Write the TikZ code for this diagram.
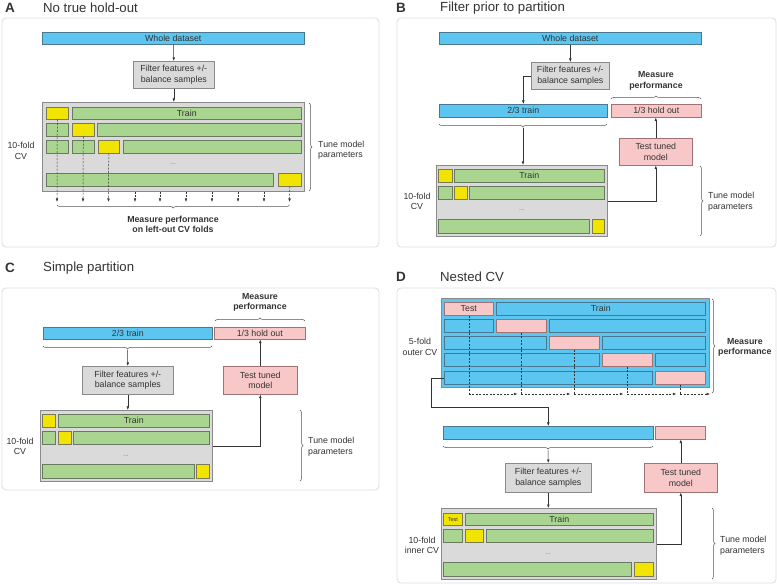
\documentclass[tikz,border=0pt]{standalone}
\usepackage{fontspec}
\setmainfont{Liberation Sans}
\usetikzlibrary{arrows.meta,decorations.pathreplacing,calc}
\definecolor{cblue}{HTML}{5CC6F0}
\definecolor{cblueb}{HTML}{4A7890}
\definecolor{cpink}{HTML}{F8C8C8}
\definecolor{cpinkb}{HTML}{A07272}
\definecolor{cgreen}{HTML}{A9D591}
\definecolor{cgreenb}{HTML}{6A7A62}
\definecolor{cyellow}{HTML}{F1E400}
\definecolor{cyellowb}{HTML}{7C7A50}
\definecolor{cgray}{HTML}{DADADA}
\definecolor{cgrayb}{HTML}{8A8A8A}
\definecolor{cpanel}{HTML}{DDDDDD}
\definecolor{carrow}{HTML}{333333}
\definecolor{cbrace}{HTML}{555555}
\definecolor{ctext}{HTML}{333333}
\newcommand\fs{\fontsize{8.8}{10.5}\selectfont}
\newcommand\mybox[7]{%
  \pgfmathsetmacro\bw{#5-#3}\pgfmathsetmacro\bh{#6-#4}%
  \node[#2, minimum width=\bw pt, minimum height=\bh pt, anchor=north west] (#1) at (#3,#4) {#7};}
\tikzset{
  base/.style={draw, line width=0.6pt, inner sep=0pt, font=\fs, text=ctext},
  bluebar/.style={base, fill=cblue, draw=cblueb},
  pinkbar/.style={base, fill=cpink, draw=cpinkb},
  greenbar/.style={base, fill=cgreen, draw=cgreenb},
  yellowbar/.style={base, fill=cyellow, draw=cyellowb},
  graybox/.style={base, fill=cgray, draw=cgrayb, align=center},
  pinkbox/.style={base, fill=cpink, draw=cpinkb, align=center},
  cvbox/.style={base, fill=cgray, draw=cgrayb, line width=0.8pt},
  outerbox/.style={base, fill=cblue, draw=cgrayb, line width=0.8pt},
  panel/.style={draw=cpanel, line width=0.8pt, rounded corners=4pt, fill=white},
  arr/.style={-{Latex[length=3.5pt,width=2.6pt]}, line width=0.5pt, draw=carrow},
  dasharr/.style={arr, dash pattern=on 2pt off 1.5pt},
  dsh/.style={line width=0.5pt, draw=carrow, dash pattern=on 2pt off 1.5pt},
  brc/.style={decorate, decoration={brace, amplitude=3pt}, draw=cbrace, line width=0.5pt},
  brcm/.style={decorate, decoration={brace, mirror, amplitude=3pt}, draw=cbrace, line width=0.5pt},
  lbl/.style={font=\fs, align=center, inner sep=0pt, text=ctext},
  lbll/.style={font=\fs, align=left, inner sep=0pt, text=ctext, anchor=west},
  blbl/.style={font=\fs\bfseries, align=center, inner sep=0pt, text=ctext},
  dotsl/.style={font=\fontsize{7}{8}\selectfont, inner sep=0pt, text=gray},
  ttl/.style={font=\fontsize{13.2}{15}\selectfont, anchor=west, inner sep=0pt, text=ctext},
  tag/.style={font=\fontsize{13.5}{15}\selectfont\bfseries, anchor=west, inner sep=0pt, text=ctext},
}
\begin{document}
\begin{tikzpicture}[x=1pt,y=-1pt]
\useasboundingbox (0,0) rectangle (777,585);
\fill[white] (0,0) rectangle (777,585);

% ================= Panel A =================
\node[tag] (Atag) at (5,8) {A};
\node[ttl] (Attl) at (43,8) {No true hold-out};
\draw[panel] (2,18) rectangle (379,247);
\mybox{Awhole}{bluebar}{42}{32}{304}{44}{Whole dataset}
\mybox{Afilt}{graybox}{133}{61}{214}{88}{Filter features +/-\\balance samples}
\draw[arr] (Awhole.south) -- (Afilt.north);
\mybox{Acv}{cvbox}{42}{102}{304}{191}{}
\draw[arr] (Afilt.south) -- (Afilt.south |- Acv.north);
\mybox{A11}{yellowbar}{46}{107}{68}{119}{}
\mybox{A12}{greenbar}{72}{107}{301}{119}{Train}
\mybox{A21}{greenbar}{46}{123}{68}{136}{}
\mybox{A22}{yellowbar}{72}{123}{94}{136}{}
\mybox{A23}{greenbar}{97}{123}{301}{136}{}
\mybox{A31}{greenbar}{46}{140}{68}{153}{}
\mybox{A32}{greenbar}{72}{140}{94}{153}{}
\mybox{A33}{yellowbar}{98}{140}{119}{153}{}
\mybox{A34}{greenbar}{123}{140}{301}{153}{}
\node[dotsl] (Adots) at (173,164) {...};
\mybox{A41}{greenbar}{46}{173}{273}{186}{}
\mybox{A42}{yellowbar}{278}{173}{301}{186}{}
\coordinate (Ad1) at (57,202);
\coordinate (Ad2) at (83,202);
\coordinate (Ad3) at (108.5,202);
\coordinate (Ad4) at (135,202);
\coordinate (Ad5) at (160,202);
\coordinate (Ad6) at (186,202);
\coordinate (Ad7) at (212,202);
\coordinate (Ad8) at (238,202);
\coordinate (Ad9) at (264,202);
\coordinate (Ad10) at (289.5,202);
\draw[dasharr] (A11.south) -- (Ad1);
\draw[dasharr] (A22.south) -- (Ad2);
\draw[dasharr] (A33.south) -- (Ad3);
\foreach \i in {4,...,9} {\draw[dasharr] (Acv.south -| Ad\i) -- (Ad\i);}
\draw[dasharr] (A42.south) -- (Ad10);
\draw[brcm] (57,205) -- (289.5,205);
\node[blbl] (Ameas) at (173,224.5) {Measure performance\\on left-out CV folds};
\draw[brc] (309,103) -- (309,191);
\node[lbll] (Atune) at (318,150) {Tune model\\parameters};
\node[lbl] (Afold) at (21,151) {10-fold\\CV};

% ================= Panel B =================
\node[tag] (Btag) at (396,8) {B};
\node[ttl] (Bttl) at (440,8) {Filter prior to partition};
\draw[panel] (397,18) rectangle (776,247);
\mybox{Bwhole}{bluebar}{439}{32}{701}{44}{Whole dataset}
\mybox{Bfilt}{graybox}{531}{62}{609}{89}{Filter features +/-\\balance samples}
\draw[arr] (Bwhole.south -| Bfilt.north) -- (Bfilt.north);
\mybox{Btrain}{bluebar}{439}{104}{607}{117}{2/3 train}
\mybox{Bhold}{pinkbar}{611}{104}{701}{117}{1/3 hold out}
\draw[arr] (Bfilt.west) -| (Btrain.north);
\node[blbl] (Bmeas) at (656,81) {Measure\\performance};
\draw[brc] (611,99) -- (701,99);
\draw[brcm] (439,124) -- (607,124);
\coordinate (Bbt) at (523,128);
\mybox{Bcv}{cvbox}{436}{165}{607}{236}{}
\draw[arr] (Bbt) -- (Bbt |- Bcv.north);
\mybox{Btest}{pinkbox}{619}{138}{692}{165}{Test tuned\\model}
\draw[arr] (Btest.north) -- (Btest.north |- Bhold.south);
\mybox{B11}{yellowbar}{438}{169}{452}{182}{}
\mybox{B12}{greenbar}{454}{169}{604}{182}{Train}
\mybox{B21}{greenbar}{438}{186}{452}{199}{}
\mybox{B22}{yellowbar}{454}{186}{467}{199}{}
\mybox{B23}{greenbar}{469}{186}{604}{199}{}
\node[dotsl] (Bdots) at (522,210) {...};
\mybox{B31}{greenbar}{438}{219}{589}{233}{}
\mybox{B32}{yellowbar}{592}{219}{604}{233}{}
\draw[arr] (Bcv.east) -| (Btest.south);
\draw[brc] (700,166) -- (700,236);
\node[lbll] (Btune) at (708,201.5) {Tune model\\parameters};
\node[lbl] (Bfold) at (417,201.5) {10-fold\\CV};

% ================= Panel C =================
\node[tag] (Ctag) at (5,268) {C};
\node[ttl] (Cttl) at (43,268) {Simple partition};
\draw[panel] (2,288) rectangle (379,490);
\node[blbl] (Cmeas) at (260,302.5) {Measure\\performance};
\draw[brc] (215,321) -- (305,321);
\mybox{Ctrain}{bluebar}{43}{327}{212}{339}{2/3 train}
\mybox{Chold}{pinkbar}{214}{327}{305}{339}{1/3 hold out}
\draw[brcm] (43,346) -- (212,346);
\coordinate (Cbt) at (127.5,350);
\mybox{Cfilt}{graybox}{82}{366}{173}{394}{Filter features +/-\\balance samples}
\draw[arr] (Cbt) -- (Cfilt.north);
\mybox{Ctest}{pinkbox}{223}{366}{297}{394}{Test tuned\\model}
\draw[arr] (Ctest.north) -- (Ctest.north |- Chold.south);
\mybox{Ccv}{cvbox}{40}{410}{212}{481}{}
\draw[arr] (Cfilt.south) -- (Cfilt.south |- Ccv.north);
\mybox{C11}{yellowbar}{42}{414}{55}{427}{}
\mybox{C12}{greenbar}{58}{414}{209}{427}{Train}
\mybox{C21}{greenbar}{42}{431}{55}{444}{}
\mybox{C22}{yellowbar}{58}{431}{71}{444}{}
\mybox{C23}{greenbar}{73}{431}{209}{444}{}
\node[dotsl] (Cdots) at (126,456) {...};
\mybox{C31}{greenbar}{42}{464}{194}{478}{}
\mybox{C32}{yellowbar}{196}{464}{209}{478}{}
\draw[arr] (Ccv.east) -| (Ctest.south);
\draw[brc] (300,410) -- (300,481);
\node[lbll] (Ctune) at (308,446.5) {Tune model\\parameters};
\node[lbl] (Cfold) at (20,446.5) {10-fold\\CV};

% ================= Panel D =================
\node[tag] (Dtag) at (396,277) {D};
\node[ttl] (Dttl) at (440,277) {Nested CV};
\draw[panel] (397,288) rectangle (776,583);
\mybox{Douter}{outerbox}{441}{298}{709}{387}{}
\mybox{D11}{pinkbar}{444}{302}{493}{315}{Test}
\mybox{D12}{bluebar}{496}{302}{705}{315}{Train}
\mybox{D21}{bluebar}{444}{319}{493}{332}{}
\mybox{D22}{pinkbar}{496}{319}{546}{332}{}
\mybox{D23}{bluebar}{549}{319}{705}{332}{}
\mybox{D31}{bluebar}{444}{336}{546}{349}{}
\mybox{D32}{pinkbar}{549}{336}{599}{349}{}
\mybox{D33}{bluebar}{602}{336}{705}{349}{}
\mybox{D41}{bluebar}{444}{353}{599}{366}{}
\mybox{D42}{pinkbar}{602}{353}{652}{366}{}
\mybox{D43}{bluebar}{655}{353}{705}{366}{}
\mybox{D51}{bluebar}{444}{371}{652}{384}{}
\mybox{D52}{pinkbar}{655}{371}{705}{384}{}
\coordinate (Dy) at (0,394);
\coordinate (Dend) at (710,394);
\draw[dsh] (D11.south) -- (D11.south |- Dy);
\draw[dsh] (D22.south) -- (D22.south |- Dy);
\draw[dsh] (D32.south) -- (D32.south |- Dy);
\draw[dsh] (D42.south) -- (D42.south |- Dy);
\draw[dsh] (D52.south) -- (D52.south |- Dy);
\draw[dasharr] (D11.south |- Dy) -- ($(D22.south |- Dy)+(-4,0)$);
\draw[dasharr] (D22.south |- Dy) -- ($(D32.south |- Dy)+(-4,0)$);
\draw[dasharr] (D32.south |- Dy) -- ($(D42.south |- Dy)+(-4,0)$);
\draw[dasharr] (D42.south |- Dy) -- ($(D52.south |- Dy)+(-4,0)$);
\draw[dasharr] (D52.south |- Dy) -- (Dend);
\draw[brc] (712,299) -- (712,393);
\node[blbl, anchor=west] (Dmeas) at (718,347.5) {Measure\\performance};
\node[lbl] (Dfold) at (420,347) {5-fold\\outer CV};
\mybox{Dbar}{bluebar}{443}{426}{653}{439}{}
\mybox{Dpink}{pinkbar}{655}{426}{705}{439}{}
\coordinate (Dk1) at (431,407);
\draw[arr] (D51.west) -| (Dk1) -| (Dbar.north);
\draw[brcm] (443,446) -- (653,446);
\coordinate (Dbt) at (548,450);
\mybox{Dfilt}{graybox}{505}{463}{591}{492}{Filter features +/-\\balance samples}
\draw[arr] (Dbt) -- (Dfilt.north);
\mybox{Dtest}{pinkbox}{644}{463}{717}{492}{Test tuned\\model}
\draw[arr] (Dtest.north) -- (Dtest.north |- Dpink.south);
\mybox{Dcv}{cvbox}{441}{508}{656}{579}{}
\draw[arr] (Dfilt.south) -- (Dfilt.south |- Dcv.north);
\mybox{E11}{yellowbar}{443}{513}{462}{525}{\fontsize{5.5}{6}\selectfont Test}
\mybox{E12}{greenbar}{465}{513}{653}{525}{Train}
\mybox{E21}{greenbar}{443}{529}{462}{542}{}
\mybox{E22}{yellowbar}{465}{529}{483}{542}{}
\mybox{E23}{greenbar}{486}{529}{653}{542}{}
\node[dotsl] (Edots) at (548,554) {...};
\mybox{E31}{greenbar}{443}{562}{631}{576}{}
\mybox{E32}{yellowbar}{634}{562}{653}{576}{}
\draw[arr] (Dcv.east) -| (Dtest.south);
\draw[brc] (712,508) -- (712,579);
\node[lbll] (Dtune) at (720,545.5) {Tune model\\parameters};
\node[lbl] (Efold) at (422,545.5) {10-fold\\inner CV};
\end{tikzpicture}
\end{document}
